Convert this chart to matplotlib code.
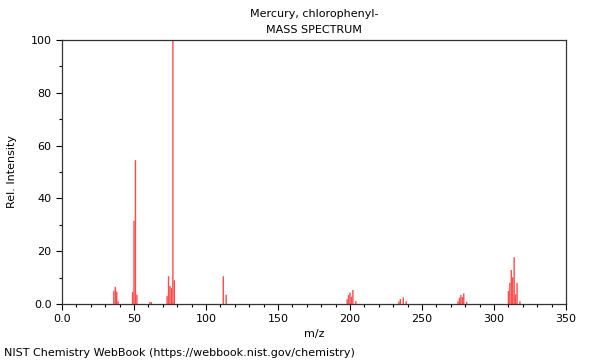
import matplotlib
matplotlib.use("Agg")
import matplotlib.pyplot as plt
from matplotlib.ticker import MultipleLocator, FuncFormatter

# peak list
mz = [36, 37, 38, 39,
      49, 50, 51, 52,
      61, 62,
      73, 74, 75, 76, 77, 78,
      112, 114,
      198, 199, 200, 201, 202, 204,
      234, 235, 237, 239,
      275, 276, 277, 278, 279, 281,
      310, 311, 312, 313, 314, 315, 316, 318]
intensity = [5.0, 6.5, 4.7, 1.0,
             4.5, 31.5, 54.5, 3.5,
             0.7, 0.7,
             3.0, 10.5, 6.8, 6.0, 100.0, 9.0,
             10.5, 3.5,
             1.8, 3.4, 4.3, 2.8, 5.3, 1.1,
             1.0, 1.9, 2.5, 1.0,
             1.0, 2.4, 3.4, 2.6, 4.0, 0.8,
             4.9, 8.0, 12.9, 10.1, 17.7, 3.7, 8.0, 1.0]

name = "Mercury, chlorophenyl-"
subtitle = "MASS SPECTRUM"
footer = "NIST Chemistry WebBook (https://webbook.nist.gov/chemistry)"

fig = plt.figure(figsize=(6, 3.6), dpi=100)
ax = fig.add_axes([62 / 600, 1 - 304 / 360, 504 / 600, 264 / 360])

ax.vlines(mz, 0, intensity, color="#ff4a4a", linewidth=1.0, snap=False)

ax.set_xlim(0, 350)
ax.set_ylim(0, 100)
ax.xaxis.set_major_locator(MultipleLocator(50))
ax.xaxis.set_minor_locator(MultipleLocator(10))
ax.yaxis.set_major_locator(MultipleLocator(20))
ax.yaxis.set_minor_locator(MultipleLocator(10))

fmt = FuncFormatter(lambda v, p: "0.0" if v == 0 else f"{v:g}")
ax.xaxis.set_major_formatter(fmt)
ax.yaxis.set_major_formatter(fmt)
ax.tick_params(labelsize=8, direction="out", length=4, width=0.8)
ax.tick_params(which="minor", length=2, width=0.8)

for s in ax.spines.values():
    s.set_color("#333333")
    s.set_linewidth(0.9)

ax.set_xlabel("m/z", fontsize=8, labelpad=3)
ax.set_ylabel("Rel. Intensity", fontsize=8, labelpad=10)

fig.text(314 / 600, 1 - 14 / 360, name, fontsize=8, ha="center", va="center")
fig.text(314 / 600, 1 - 30 / 360, subtitle, fontsize=8, ha="center", va="center")
fig.text(4 / 600, 1 - 353 / 360, footer, fontsize=8, va="center", ha="left")

fig.savefig("out.png", dpi=100)
